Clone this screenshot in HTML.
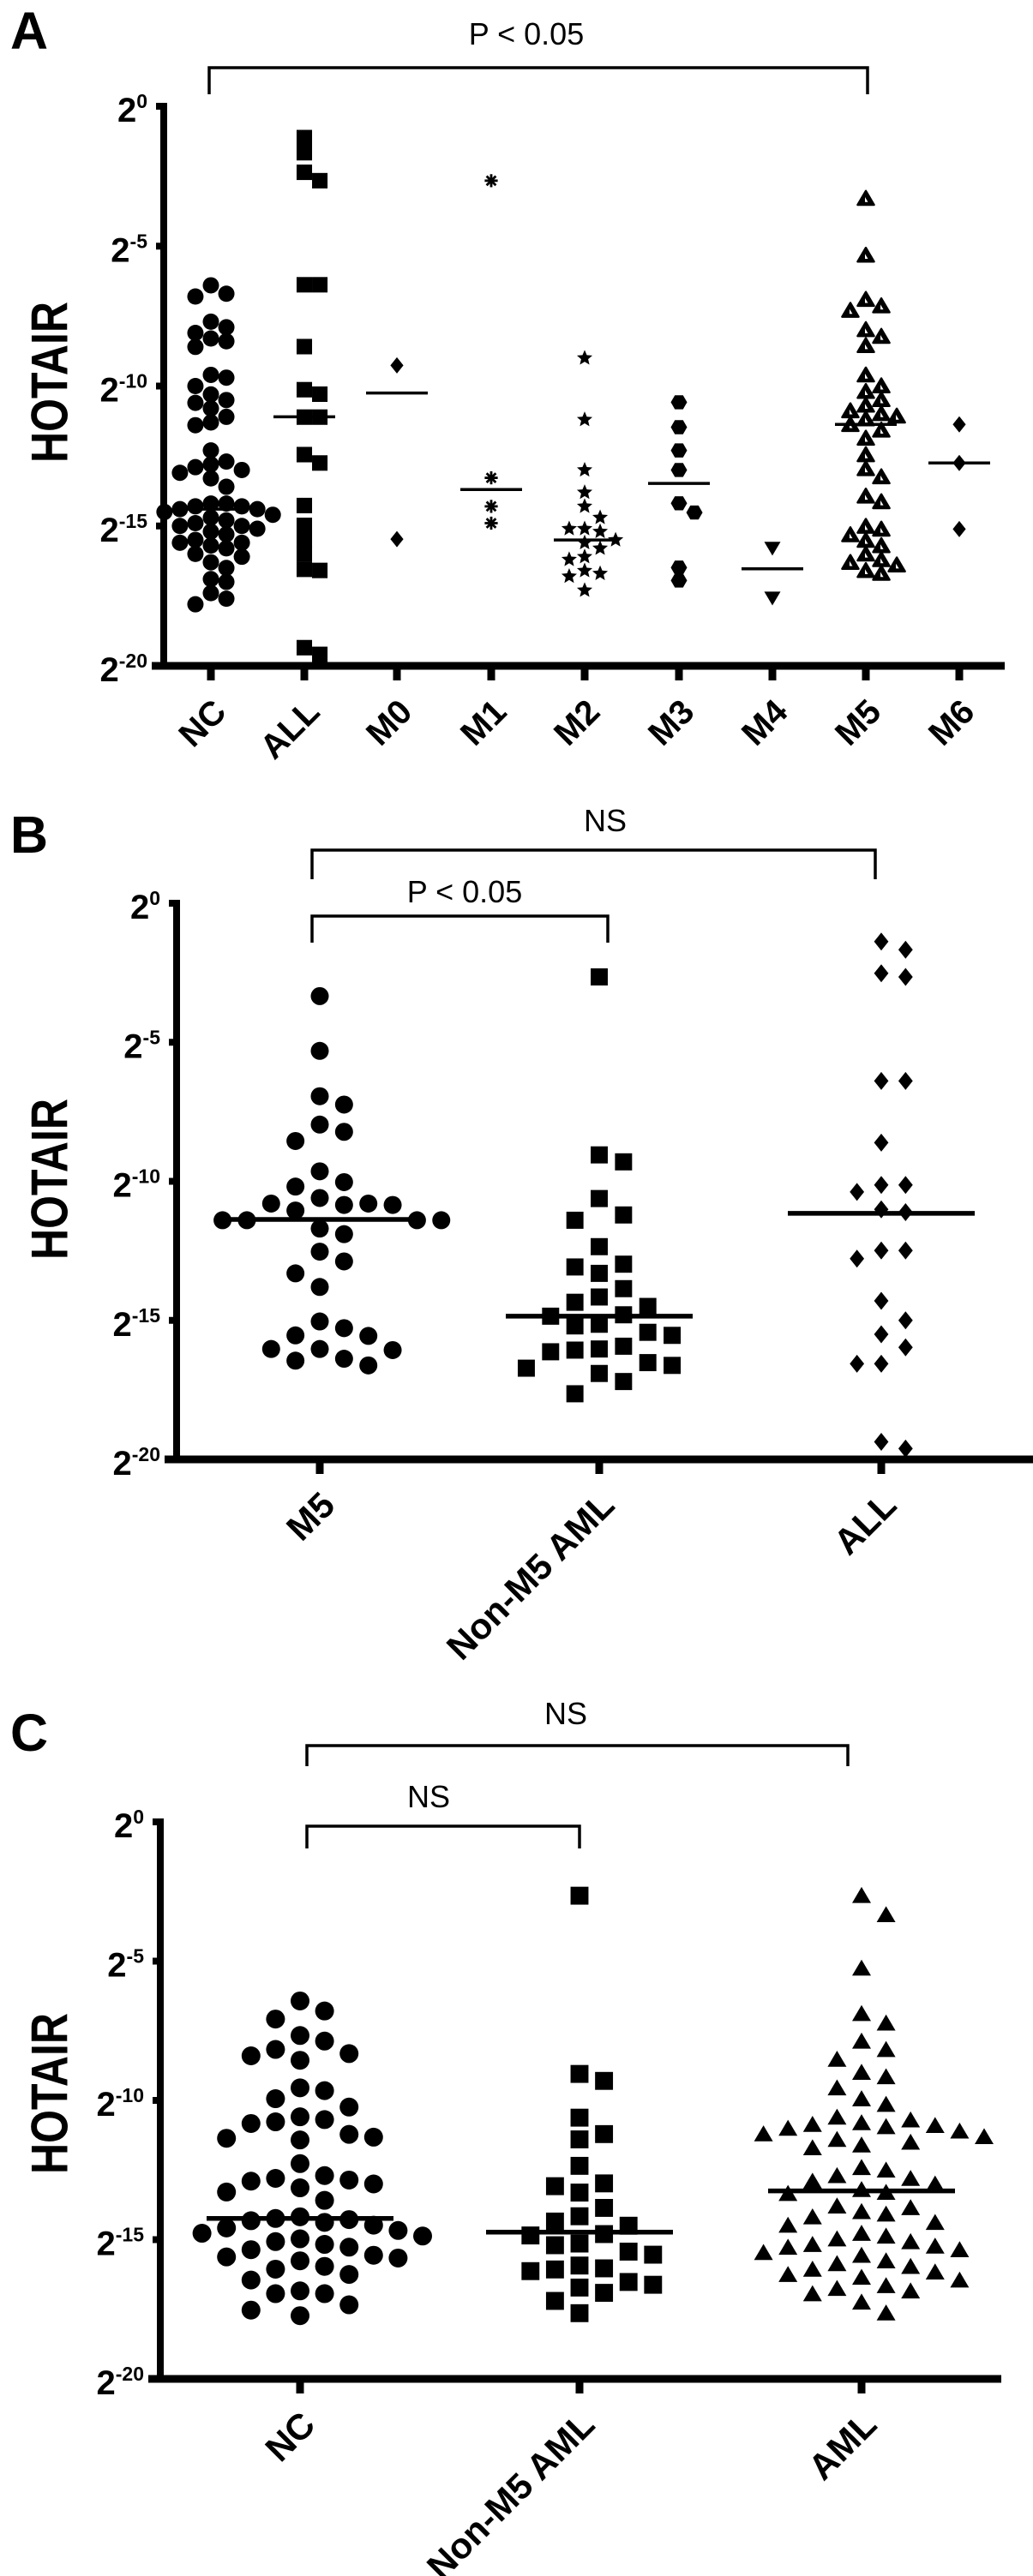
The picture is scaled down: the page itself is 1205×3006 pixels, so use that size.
<!DOCTYPE html>
<html><head><meta charset="utf-8"><style>
html,body{margin:0;padding:0;background:#fff}
svg{display:block}
text{font-family:"Liberation Sans",Arial,sans-serif}
</style></head><body>
<svg id="fig" xmlns="http://www.w3.org/2000/svg" width="1205" height="3006" viewBox="0 0 1205 3006"></svg>
<script>
// ---------- DATA (log2 exponents) ----------
const catsA = ["NC","ALL","M0","M1","M2","M3","M4","M5","M6"];
const A_NC = [-6.4,-6.7,-6.8,-7.7,-7.9,-8.1,-8.3,-8.6,-8.4,-9.6,-9.7,-10.0,-10.3,-10.5,-10.6,-10.8,-11.1,-11.3,-11.4,-12.3,-12.7,-12.8,-12.9,-13.0,-13.1,-13.3,-13.6,-14.2,-14.2,-14.3,-14.3,-14.4,-14.4,-14.5,-14.6,-14.7,-14.8,-14.9,-15.0,-15.0,-15.1,-15.2,-15.3,-15.5,-15.6,-15.6,-15.7,-15.8,-16.0,-16.1,-16.3,-16.5,-16.9,-17.0,-17.4,-17.6,-17.8];
const A_ALL = [-1.12,-1.66,-2.36,-2.66,-6.38,-6.38,-8.59,-10.13,-10.29,-11.11,-11.11,-12.45,-12.75,-14.27,-14.98,-15.51,-16.0,-16.55,-16.59,-19.35,-19.59];
const A_M0 = [-9.26,-15.47];
const A_M1 = [-2.66,-13.28,-14.3,-14.9];
const A_M2 = [-9.0,-11.2,-13.0,-13.8,-14.3,-14.7,-15.1,-15.1,-15.2,-15.5,-15.6,-15.8,-16.1,-16.2,-16.6,-16.7,-16.8,-17.3];
const A_M3 = [-10.58,-11.47,-12.3,-13.0,-14.19,-14.52,-16.49,-16.95];
const A_M4 = [-15.8,-17.58];
const A_M5 = [-3.29,-5.32,-6.9,-7.13,-7.29,-7.98,-8.22,-8.55,-9.6,-9.99,-10.19,-10.48,-10.68,-10.88,-10.98,-11.07,-11.17,-11.37,-11.57,-11.86,-12.45,-12.95,-13.24,-13.93,-14.13,-15.01,-15.11,-15.31,-15.51,-15.7,-16.0,-16.2,-16.3,-16.39,-16.59,-16.69];
const A_M6 = [-11.37,-12.75,-15.11];
const meansA = [-14.4,-11.1,-10.25,-13.7,-15.5,-13.48,-16.53,-11.37,-12.75];

const catsB = ["M5","Non-M5 AML","ALL"];
const B_M5 = [-3.34,-5.31,-6.94,-7.24,-7.96,-8.22,-8.55,-9.64,-10.03,-10.19,-10.6,-10.8,-10.85,-10.8,-10.85,-11.05,-11.4,-11.4,-11.4,-11.4,-11.7,-11.9,-12.53,-12.88,-13.31,-13.8,-15.04,-15.28,-15.54,-15.56,-16.03,-16.03,-16.07,-16.38,-16.45,-16.62];
const B_NON = [-2.65,-9.05,-9.3,-10.62,-11.21,-11.4,-12.35,-12.98,-13.08,-13.31,-13.86,-14.16,-14.35,-14.5,-14.8,-14.85,-15.14,-15.2,-15.43,-15.54,-15.93,-16.03,-16.07,-16.13,-16.52,-16.62,-16.72,-16.91,-17.2,-17.64];
const B_ALL = [-1.38,-1.67,-2.52,-2.65,-6.39,-6.39,-8.61,-10.13,-10.13,-10.38,-11.01,-11.11,-12.49,-12.49,-12.78,-14.3,-15.0,-15.5,-15.97,-16.56,-16.56,-19.37,-19.61];
const meansB = [-11.37,-14.85,-11.15];

const catsC = ["NC","Non-M5 AML","AML"];
const C_NC = [-6.43,-6.79,-7.08,-7.67,-7.87,-8.17,-8.32,-8.40,-8.56,-9.55,-9.65,-9.94,-10.24,-10.59,-10.69,-10.77,-10.83,-11.22,-11.32,-11.36,-11.42,-12.27,-12.70,-12.80,-12.86,-12.90,-13.0,-13.14,-13.29,-13.59,-14.18,-14.24,-14.28,-14.32,-14.38,-14.48,-14.58,-14.67,-14.77,-14.87,-14.97,-15.07,-15.17,-15.27,-15.36,-15.56,-15.62,-15.66,-15.76,-15.96,-16.06,-16.25,-16.45,-16.84,-16.94,-16.94,-17.34,-17.53,-17.73];
const C_NON = [-2.65,-9.05,-9.3,-10.62,-11.21,-11.4,-12.35,-12.98,-13.08,-13.31,-13.86,-14.16,-14.35,-14.5,-14.8,-14.85,-15.14,-15.2,-15.43,-15.54,-15.93,-16.03,-16.07,-16.13,-16.52,-16.62,-16.72,-16.91,-17.2,-17.64];
const C_AML = [-2.64,-3.33,-5.25,-6.88,-7.22,-7.87,-8.17,-8.52,-8.99,-9.15,-9.55,-9.94,-10.14,-10.6,-10.7,-10.8,-10.86,-10.9,-10.94,-11.0,-11.1,-11.2,-11.3,-11.4,-11.5,-11.6,-11.7,-12.41,-12.5,-12.7,-12.8,-12.9,-13.0,-13.2,-13.3,-13.34,-13.79,-13.85,-13.99,-14.08,-14.18,-14.38,-14.48,-14.77,-14.87,-14.97,-15.07,-15.17,-15.23,-15.27,-15.36,-15.46,-15.56,-15.76,-15.86,-15.96,-16.06,-16.16,-16.25,-16.35,-16.45,-16.65,-16.75,-16.84,-16.94,-17.24,-17.63];
const meansC = [-14.24,-14.73,-13.25];

// ---------- DRAWING ----------
const NS = "http://www.w3.org/2000/svg";
const svg = document.getElementById("fig");
function mk(tag, attrs, parent){const e=document.createElementNS(NS,tag);for(const k in attrs)e.setAttribute(k,attrs[k]);(parent||svg).appendChild(e);return e;}

function marker(g, shape, x, y, s){
  let e;
  const r=s/2;
  if(shape==="circle"){e=mk("circle",{cx:x,cy:y,r:r,fill:"#000"},g);}
  else if(shape==="square"){e=mk("rect",{x:x-r*0.95,y:y-r*0.95,width:s*0.95,height:s*0.95,fill:"#000"},g);}
  else if(shape==="diamond"){e=mk("polygon",{points:`${x},${y-r} ${x+r*0.8},${y} ${x},${y+r} ${x-r*0.8},${y}`,fill:"#000"},g);}
  else if(shape==="hex"){let p=[];for(let i=0;i<6;i++){const a=Math.PI/3*i;p.push((x+r*Math.cos(a))+","+(y+r*Math.sin(a)));}e=mk("polygon",{points:p.join(" "),fill:"#000"},g);}
  else if(shape==="star"){let p=[];for(let i=0;i<10;i++){const a=-Math.PI/2+Math.PI/5*i;const rr=i%2?r*0.45:r;p.push((x+rr*Math.cos(a))+","+(y+rr*Math.sin(a)));}e=mk("polygon",{points:p.join(" "),fill:"#000"},g);}
  else if(shape==="tridown"){e=mk("polygon",{points:`${x-r},${y-r*0.8} ${x+r},${y-r*0.8} ${x},${y+r*0.9}`,fill:"#000"},g);}
  else if(shape==="triup"){e=mk("polygon",{points:`${x-r},${y+r*0.8} ${x+r},${y+r*0.8} ${x},${y-r*0.9}`,fill:"#000"},g);}
  else if(shape==="opentri"){e=mk("g",{},g);
    mk("polygon",{points:`${x-r},${y+r*0.8} ${x+r},${y+r*0.8} ${x},${y-r*0.9}`,fill:"#000",stroke:"#000","stroke-width":2.5,"stroke-linejoin":"round"},e);
    mk("polygon",{points:`${x-1},${y+r*0.45} ${x+2.5},${y+r*0.45} ${x-1},${y-r*0.15}`,fill:"#fff"},e);}
  else if(shape==="aster"){e=mk("g",{stroke:"#000","stroke-width":2.8},g);
    for(let i=0;i<4;i++){const a=Math.PI/4*i;mk("line",{x1:x-r*0.8*Math.cos(a),y1:y-r*0.8*Math.sin(a),x2:x+r*0.8*Math.cos(a),y2:y+r*0.8*Math.sin(a)},e);}}
  return e;
}

function swarm(vals, ys, s, dyk, dxk){
  const sorted=vals.slice().sort((a,b)=>b-a);
  const placed=[];
  for(const v of sorted){
    const y=ys(v);
    let off=0;
    for(let t=0;t<40;t++){
      off = (t===0)?0:(t%2? Math.ceil(t/2): -Math.ceil(t/2))*s*dxk;
      if(!placed.some(p=>Math.abs(p.y-y)<s*dyk && Math.abs(p.dx-off)<s*dxk*0.95)) break;
    }
    placed.push({y:y,dx:off});
  }
  return placed;
}

function panel(cfg){
  const g=mk("g",{});
  
  
  const unit=(cfg.y20-cfg.y0)/20;
  const ys=e=>cfg.y0+(-e)*unit;
  const L=mk("text",{x:12,y:cfg.letterY,"font-size":61,"font-weight":"bold"},g);L.textContent=cfg.letter;
  
  
  const T=mk("text",{x:0,y:0,"font-size":60,"font-weight":"bold","text-anchor":"middle","dominant-baseline":"central",textLength:188,lengthAdjust:"spacingAndGlyphs",transform:`translate(58,${cfg.titleY}) rotate(-90)`},g);T.textContent="HOTAIR";
  
  
  const ax=mk("g",{},g);
  
  
  mk("line",{x1:cfg.ax,y1:cfg.y0-4,x2:cfg.ax,y2:cfg.y20+4,stroke:"#000","stroke-width":8},ax);
  mk("line",{x1:cfg.ax-14,y1:cfg.y20,x2:cfg.xend,y2:cfg.y20,stroke:"#000","stroke-width":9},ax);
  for(const t of [0,-5,-10,-15,-20]){
    const y=ys(t);
    mk("line",{x1:cfg.ax-9,y1:y,x2:cfg.ax,y2:y,stroke:"#000","stroke-width":8},ax);
    const tx=mk("text",{x:cfg.ax-19,y:y+18,"font-size":40,"font-weight":"bold","text-anchor":"end"},ax);
    
    
    const a=mk("tspan",{},tx);a.textContent="2";
    const b=mk("tspan",{dy:-16,"font-size":23},tx);b.textContent=String(t);
  }
  cfg.cats.forEach((c,i)=>{
    const x=cfg.cx[i];
    mk("line",{x1:x,y1:cfg.y20,x2:x,y2:cfg.y20+17,stroke:"#000","stroke-width":9},ax);
    const lt=mk("text",{x:0,y:0,"font-size":cfg.xfs,"font-weight":"bold","text-anchor":"end",transform:`translate(${x+20},${cfg.y20+56}) rotate(-45)`},ax);
    lt.textContent=c;
    
    
  });
  cfg.series.forEach((vals,i)=>{
    const sg=mk("g",{},g);
    
    
    const pts=swarm(vals,ys,cfg.ms,cfg.dyk,cfg.dxk);
    for(const p of pts){
      const m=marker(sg,cfg.shapes[i],cfg.cx[i]+p.dx,p.y,cfg.ms);
      
      
    }
    const ml=mk("line",{x1:cfg.cx[i]-cfg.mw,x2:cfg.cx[i]+cfg.mw,y1:ys(cfg.means[i]),y2:ys(cfg.means[i]),stroke:"#000","stroke-width":cfg.msw},sg);
    
    
  });
  cfg.brackets.forEach(b=>{
    const bg=mk("g",{},g);
    
    
    mk("polyline",{points:`${b.x1},${b.yb} ${b.x1},${b.yt} ${b.x2},${b.yt} ${b.x2},${b.yb}`,fill:"none",stroke:"#000","stroke-width":3.5},bg);
    const t=mk("text",{x:b.tx,y:b.ty,"font-size":36,"text-anchor":"middle"},bg);t.textContent=b.label;
    
    
  });
}

panel({name:"panel-a",letter:"A",letterY:57,titleY:446,ax:191,y0:124,y20:777,xend:1172,xfs:40,ms:19,dyk:0.72,dxk:0.95,mw:36,msw:3.5,
  cats:catsA,cx:[246,355,463,573,682,792,901,1010,1119],
  series:[A_NC,A_ALL,A_M0,A_M1,A_M2,A_M3,A_M4,A_M5,A_M6],
  shapes:["circle","square","diamond","aster","star","hex","tridown","opentri","diamond"],
  means:meansA,
  brackets:[{x1:244,x2:1012,yt:79,yb:110,label:"P < 0.05",tx:614,ty:52}]});

panel({name:"panel-b",letter:"B",letterY:995,titleY:1376,ax:206,y0:1054,y20:1703,xend:1205,xfs:42,ms:21,dyk:1.25,dxk:1.35,mw:109,msw:5.5,
  cats:catsB,cx:[373,699,1028],
  series:[B_M5,B_NON,B_ALL],
  shapes:["circle","square","diamond"],
  means:meansB,
  brackets:[{x1:364,x2:1021,yt:992,yb:1026,label:"NS",tx:706,ty:970},
            {x1:364,x2:709,yt:1069,yb:1100,label:"P < 0.05",tx:542,ty:1053}]});

panel({name:"panel-c",letter:"C",letterY:2043,titleY:2443,ax:187,y0:2126,y20:2776,xend:1168,xfs:42,ms:22,dyk:1.15,dxk:1.3,mw:109,msw:5.5,
  cats:catsC,cx:[350,676,1005],
  series:[C_NC,C_NON,C_AML],
  shapes:["circle","square","triup"],
  means:meansC,
  brackets:[{x1:358,x2:989,yt:2037,yb:2061,label:"NS",tx:660,ty:2012},
            {x1:358,x2:676,yt:2131,yb:2157,label:"NS",tx:500,ty:2109}]});
</script>
</body></html>
